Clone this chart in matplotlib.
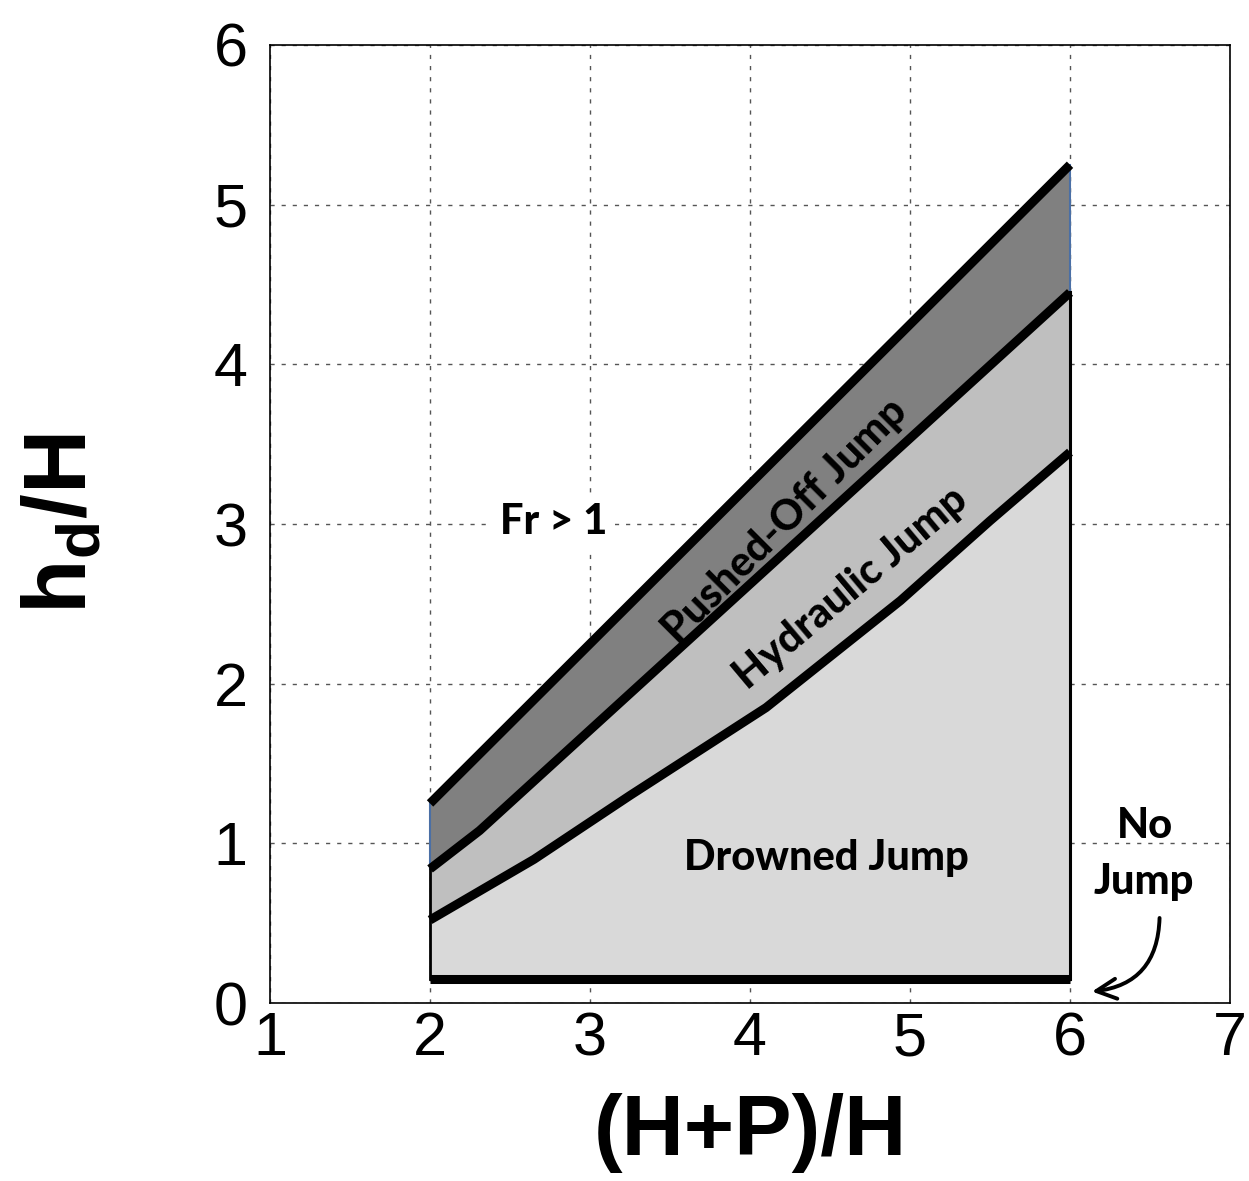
import numpy as np
import matplotlib.pyplot as plt

plt.rcParams["font.family"] = ["Liberation Sans", "DejaVu Sans"]
plt.rcParams["mathtext.fontset"] = "custom"
plt.rcParams["mathtext.bf"] = "Liberation Sans:bold"
plt.rcParams["mathtext.rm"] = "Liberation Sans"

# regime boundaries
top_x = [2.0, 6.0]
top_y = [1.25, 5.25]
hyd_x = [2.0, 2.31, 6.0]
hyd_y = [0.84, 1.08, 4.45]
drown_x = [2.0, 2.65, 3.25, 4.1, 4.94, 5.5, 6.0]
drown_y = [0.52, 0.90, 1.30, 1.85, 2.52, 3.02, 3.45]
bed_x = [2.0, 6.0]
bed_y = [0.15, 0.15]

region_labels = ["Pushed-Off Jump", "Hydraulic Jump", "Drowned Jump"]
region_colors = ["#808080", "#bfbfbf", "#d9d9d9"]

fig = plt.figure(figsize=(12.49, 11.81), dpi=100)
ax = fig.add_axes([0.2162, 0.1507, 0.7686, 0.8112])


def band(ax, x_up, y_up, x_lo, y_lo, color):
    xs = np.concatenate([x_up, x_lo[::-1]])
    ys = np.concatenate([y_up, y_lo[::-1]])
    ax.fill(xs, ys, color=color, lw=0, zorder=1)


band(ax, np.array(top_x), np.array(top_y), np.array(hyd_x), np.array(hyd_y), region_colors[0])
band(ax, np.array(hyd_x), np.array(hyd_y), np.array(drown_x), np.array(drown_y), region_colors[1])
band(ax, np.array(drown_x), np.array(drown_y), np.array(bed_x), np.array(bed_y), region_colors[2])

# side edges
ax.plot([top_x[0], hyd_x[0]], [top_y[0], hyd_y[0]], color="#4a6fa5", lw=1.5, zorder=2)
ax.plot([top_x[-1], hyd_x[-1]], [top_y[-1], hyd_y[-1]], color="#4a6fa5", lw=1.5, zorder=2)
ax.plot([hyd_x[0], bed_x[0]], [hyd_y[0], bed_y[0]], color="black", lw=2, zorder=2)
ax.plot([hyd_x[-1], bed_x[-1]], [hyd_y[-1], bed_y[-1]], color="black", lw=2.2, zorder=2)

for xs, ys in [(top_x, top_y), (hyd_x, hyd_y), (drown_x, drown_y), (bed_x, bed_y)]:
    ax.plot(xs, ys, color="black", lw=6.5, solid_capstyle="butt",
            solid_joinstyle="miter", zorder=3)

ax.set_xlim(1, 7)
ax.set_ylim(0, 6)
ax.set_xticks(range(1, 8))
ax.set_yticks(range(0, 7))
ax.set_axisbelow(True)
ax.grid(True, color="#555555", lw=1, ls=(0, (3, 5)))
ax.tick_params(length=0, labelsize=44)
ax.tick_params(axis="x", pad=6)
ax.tick_params(axis="y", pad=16)
for s in ax.spines.values():
    s.set_linewidth(1.2)

ax.set_xlabel("(H+P)/H", fontsize=62, fontweight="bold", labelpad=18)
ax.set_ylabel(r"$\mathbf{h_d/H}$", fontsize=64, labelpad=78)

lab = dict(family=["Lato", "DejaVu Sans"], fontweight=900, fontsize=30,
           ha="center", va="center", zorder=5)
ax.text(2.77, 3.01, "Fr > 1",
        bbox=dict(facecolor="white", edgecolor="none", pad=6), **lab)
ax.text(4.22, 3.02, region_labels[0], rotation=45, **lab)
ax.text(4.63, 2.60, region_labels[1], rotation=40, **lab)
ax.text(4.48, 0.91, region_labels[2], **lab)
ax.text(6.47, 1.11, "No", **lab)
ax.text(6.46, 0.76, "Jump", **lab)

ax.annotate("", xy=(6.12, 0.07), xytext=(6.56, 0.55),
            arrowprops=dict(arrowstyle="->", lw=2.8, color="black",
                            mutation_scale=36,
                            connectionstyle="arc3,rad=-0.45"),
            zorder=5)

fig.savefig("out.png", dpi=100)
